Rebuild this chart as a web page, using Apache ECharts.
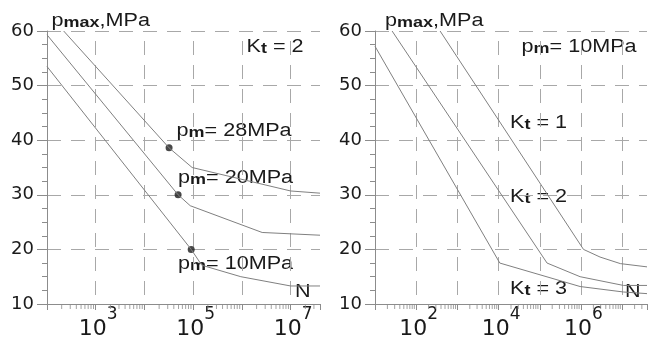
<!DOCTYPE html>
<html>
<head>
<meta charset="utf-8">
<script src="https://cdn.jsdelivr.net/npm/echarts@6/dist/echarts.min.js"></script>
<style>
html, body { margin: 0; padding: 0; background: #fff; }
#chart { width: 659px; height: 338px; }
</style>
</head>
<body>
<div id="chart"></div>
<script>
// left panel, K_t = 2 : N cycles vs p_max for three mean pressures
var nPm28 = [220, 3.2e4, 9.5e4, 1e7, 4e7];
var pPm28 = [60, 38.6, 35.0, 30.7, 30.3];
var nPm20 = [100, 4.9e4, 8.7e4, 2.6e6, 4e7];
var pPm20 = [59.3, 30.0, 28.0, 23.1, 22.6];
var nPm10 = [100, 9.1e4, 1.5e5, 9.5e5, 1e7, 4e7];
var pPm10 = [53.5, 20.0, 17.1, 15.0, 13.3, 13.3];
var dotN = [3.2e4, 4.9e4, 9.1e4];
var dotP = [38.6, 30.0, 20.0];

// right panel, p_m = 10MPa : three K_t
var nKt1 = [380, 1.15e6, 2.9e6, 9e6, 4e7];
var pKt1 = [60, 20.0, 18.6, 17.4, 16.8];
var nKt2 = [26, 1.5e5, 9.5e5, 1.07e7, 4e7];
var pKt2 = [60, 17.5, 15.0, 13.4, 13.4];
var nKt3 = [10, 1.07e4, 9.5e5, 1.07e7, 4e7];
var pKt3 = [57.2, 17.5, 13.2, 12.2, 11.9];

// axes (x in powers of ten)
var nMinLeft = 100, nMinRight = 10, nMax = 4e7;
var labelExpLeft = [3, 5, 7];
var labelExpRight = [2, 4, 6];
var pMin = 10, pMax = 60, pStep = 10;

var lineColor = '#808080';
var gridColor = '#a8a8a8';
var axisColor = '#8c8c8c';
var textColor = '#1a1a1a';

function lg(v) { return Math.log(v) / Math.LN10; }

function pairs(ns, ps) {
	return ns.map(function(n, i) { return [lg(n), ps[i]]; });
}

// minor ticks at 2..9 x 10^k
function minorExps(lo, hi) {
	var out = [];
	for (var k = Math.floor(lo); k < hi; k++) {
		for (var m = 2; m <= 9; m++) {
			var e = k + lg(m);
			if (e > lo && e <= hi) out.push(e);
		}
	}
	return out;
}

function mainX(gridIndex, lo, labels) {
	return {
		gridIndex: gridIndex,
		type: 'value',
		position: 'bottom',
		min: lg(lo),
		max: lg(nMax),
		interval: 1,
		axisLine: { show: true, lineStyle: { color: axisColor, width: 1 } },
		axisTick: { show: true, length: 6, lineStyle: { color: axisColor } },
		axisLabel: {
			show: true,
			customValues: labels,
			margin: 2,
			padding: [0, 0, 0, 5],
			formatter: function(v) {
				var e = Math.round(v);
				if (Math.abs(v - e) > 1e-6 || labels.indexOf(e) < 0) return '';
				return '{b|10}{s|' + e + '}';
			},
			rich: {
				b: { fontSize: 22, fontFamily: 'DejaVu Sans', color: textColor, lineHeight: 34, verticalAlign: 'bottom' },
				s: { fontSize: 17, fontFamily: 'DejaVu Sans', color: textColor, lineHeight: 15, verticalAlign: 'top' }
			}
		},
		splitLine: {
			show: true,
			showMinLine: false,
			showMaxLine: false,
			lineStyle: { color: gridColor, width: 1, type: [14, 10], dashOffset: 14 }
		}
	};
}

function yAx(gridIndex) {
	return {
		gridIndex: gridIndex,
		type: 'value',
		min: pMin,
		max: pMax,
		interval: pStep,
		axisLine: { show: true, lineStyle: { color: axisColor, width: 1 } },
		axisTick: { show: true, length: 10, lineStyle: { color: axisColor } },
		minorTick: { show: true, splitNumber: 4, length: 5, lineStyle: { color: axisColor } },
		axisLabel: { fontSize: 18, fontFamily: 'DejaVu Sans', color: textColor, margin: 13 },
		splitLine: {
			show: true,
			showMinLine: false,
			lineStyle: { color: gridColor, width: 1, type: [14, 10] }
		}
	};
}

function curve(xi, yi, ns, ps) {
	return {
		type: 'line',
		xAxisIndex: xi,
		yAxisIndex: yi,
		data: pairs(ns, ps),
		symbol: 'none',
		lineStyle: { color: lineColor, width: 1 },
		silent: true
	};
}

// log minor ticks under the x axis, placed through the axis scale
function minorTicks(xi, yi, lo) {
	return {
		type: 'scatter',
		xAxisIndex: xi,
		yAxisIndex: yi,
		data: minorExps(lg(lo), lg(nMax)).map(function(e) { return [e, pMin]; }),
		symbol: 'rect',
		symbolSize: [1, 5],
		symbolOffset: [0, 2.5],
		itemStyle: { color: axisColor },
		clip: false,
		silent: true,
		z: 1
	};
}

// text with small bold subscript, slightly stretched like the source figure
var rich = {
	a: { fontSize: 18, fontFamily: 'Liberation Sans', fill: textColor, lineHeight: 18, verticalAlign: 'bottom' },
	b: { fontSize: 15, fontFamily: 'Liberation Sans', fontWeight: 'bold', fill: textColor, lineHeight: 12, verticalAlign: 'bottom' }
};

function note(x, y, main, sub, rest) {
	var txt = '{a|' + main + '}';
	if (sub) txt += '{b|' + sub + '}';
	if (rest) txt += '{a|' + rest + '}';
	return {
		type: 'text',
		x: x,
		y: y,
		scaleX: 1.2,
		silent: true,
		style: { text: txt, rich: rich, align: 'left', verticalAlign: 'middle' }
	};
}

var myChart = echarts.init(document.getElementById('chart'), null, { renderer: 'canvas' });

var option = {
	backgroundColor: '#ffffff',
	animation: false,
	grid: [
		{ left: 47, top: 31, width: 273, height: 273, outerBoundsMode: 'none' },
		{ left: 375, top: 31, width: 272, height: 273, outerBoundsMode: 'none' }
	],
	xAxis: [
		mainX(0, nMinLeft, labelExpLeft),
		mainX(1, nMinRight, labelExpRight)
	],
	yAxis: [yAx(0), yAx(1)],
	series: [
		curve(0, 0, nPm28, pPm28),
		curve(0, 0, nPm20, pPm20),
		curve(0, 0, nPm10, pPm10),
		{
			type: 'scatter',
			xAxisIndex: 0,
			yAxisIndex: 0,
			data: pairs(dotN, dotP),
			symbol: 'circle',
			symbolSize: 7,
			itemStyle: { color: textColor },
			silent: true
		},
		minorTicks(0, 0, nMinLeft),
		curve(1, 1, nKt1, pKt1),
		curve(1, 1, nKt2, pKt2),
		curve(1, 1, nKt3, pKt3),
		minorTicks(1, 1, nMinRight)
	],
	graphic: {
		elements: [
			note(51.5, 21.5, 'p', 'max', ',MPa'),
			note(246.5, 47.5, 'K', 't', ' = 2'),
			note(176.5, 131.5, 'p', 'm', '= 28MPa'),
			note(178, 178.5, 'p', 'm', '= 20MPa'),
			note(178, 264.5, 'p', 'm', '= 10MPa'),
			note(295, 292.5, 'N'),
			note(385, 21.5, 'p', 'max', ',MPa'),
			note(521.5, 47.5, 'p', 'm', '= 10MPa'),
			note(510, 123.5, 'K', 't', ' = 1'),
			note(510, 197.5, 'K', 't', ' = 2'),
			note(510, 289, 'K', 't', ' = 3'),
			note(625, 292.5, 'N')
		]
	}
};

myChart.setOption(option);
</script>
</body>
</html>
